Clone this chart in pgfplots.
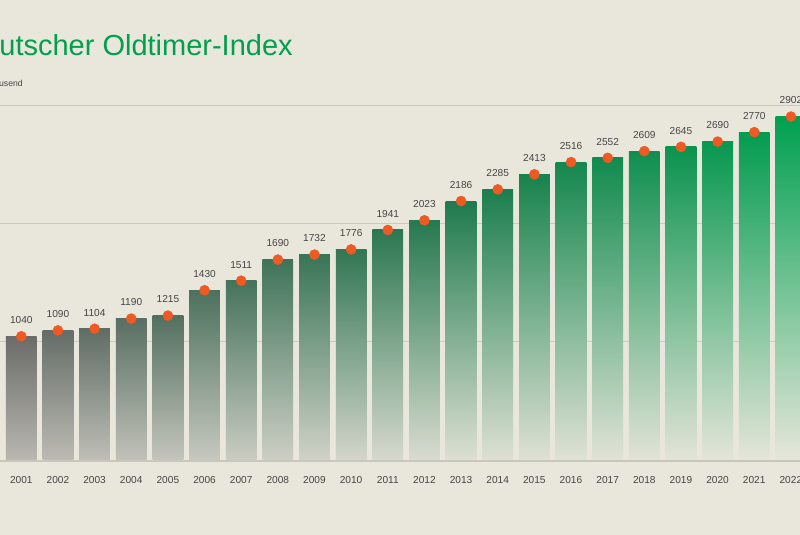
\documentclass[border=0pt]{standalone}
\usepackage{pgfplots}
\usepackage{pgfplotstable}
\pgfplotsset{compat=1.18}
\usepackage{fontspec}
\setmainfont{Liberation Sans}

\definecolor{bg}{HTML}{E9E6DB}
\definecolor{gridc}{HTML}{CCC9BE}
\definecolor{basec}{HTML}{C9C6BB}
\definecolor{titlegreen}{HTML}{00A04E}
\definecolor{labelgrey}{HTML}{454545}
\definecolor{dotorange}{HTML}{EE5A24}
% bar top colours: left, middle (2013), right
\definecolor{cA}{HTML}{6B6B69}
\definecolor{cB}{HTML}{1F7A4D}
\definecolor{cC}{HTML}{00A050}
% bar bottom colours
\definecolor{bA}{HTML}{B8B7B0}
\definecolor{bB}{HTML}{DCDFD3}
\definecolor{bC}{HTML}{E6E6DA}

\pgfplotstableread{
year val
2001 1040
2002 1090
2003 1104
2004 1190
2005 1215
2006 1430
2007 1511
2008 1690
2009 1732
2010 1776
2011 1941
2012 2023
2013 2186
2014 2285
2015 2413
2016 2516
2017 2552
2018 2609
2019 2645
2020 2690
2021 2770
2022 2902
}\datatable

\begin{document}
\begin{tikzpicture}
\useasboundingbox (0,0) rectangle (600pt,401.25pt);
\clip (0,0) rectangle (600pt,401.25pt);
\begin{axis}[
  scale only axis,
  width=600pt, height=401.25pt,
  at={(0,0)}, anchor=south west,
  xmin=2000.419, xmax=2022.247,
  ymin=-644, ymax=3890,
  axis line style={draw=none},
  major tick length=0pt,
  axis background/.style={fill=bg},
  ytick={1000,2000,3000},
  yticklabels={},
  ymajorgrids,
  grid style={gridc, line width=0.75pt},
  extra y ticks={-15},
  extra y tick labels={},
  extra y tick style={grid style={basec, line width=1.3pt}},
  xtick={2001,...,2022},
  xticklabel style={anchor=center, yshift=41.25pt, font=\fontsize{7.6}{9}\selectfont, text=labelgrey},
  /pgf/number format/1000 sep={},
  /pgf/number format/assume math mode=true,
]
\pgfplotsforeachungrouped \i in {0,...,21}{%
  \pgfplotstablegetelem{\i}{year}\of\datatable \let\yr\pgfplotsretval
  \pgfplotstablegetelem{\i}{val}\of\datatable \let\vl\pgfplotsretval
  \ifnum\i<12
    \pgfmathtruncatemacro\p{\i*100/12}%
    \edef\tc{cB!\p!cA}\edef\bc{bB!\p!bA}%
  \else
    \pgfmathtruncatemacro\p{(\i-12)*100/9}%
    \edef\tc{cC!\p!cB}\edef\bc{bC!\p!bB}%
  \fi
  \edef\cmd{\noexpand\addplot[ybar, bar width=0.84, bar shift=0pt, draw=none, top color=\tc, bottom color=\bc, forget plot] coordinates {(\yr,\vl)};}%
  \cmd
}
\addplot[only marks, mark=*, mark size=3.75pt, color=dotorange,
  nodes near coords,
  nodes near coords style={font=\fontsize{7.6}{9}\selectfont, text=labelgrey, anchor=base, yshift=9.5pt}]
  table[x=year, y=val] {\datatable};
\end{axis}
\node[anchor=base east, inner sep=0pt, text=titlegreen, font=\fontsize{21.75}{26}\selectfont] at (219.75pt,359.25pt) {Deutscher Oldtimer-Index};
\node[anchor=base east, inner sep=0pt, text=labelgrey, font=\fontsize{6.5}{8}\selectfont] at (17.25pt,336pt) {Bestand in Tausend};
\end{tikzpicture}
\end{document}
